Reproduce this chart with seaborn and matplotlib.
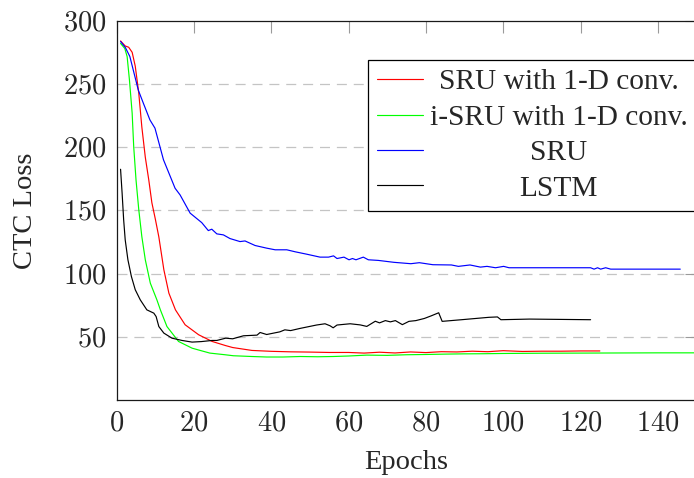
import matplotlib
matplotlib.use("Agg")
import matplotlib.pyplot as plt
import matplotlib.transforms as mtransforms
from matplotlib.ticker import FuncFormatter
import seaborn as sns

# ---------------- data ----------------
red_x = [1, 2.2, 3.1, 4, 4.8, 5.7, 6.5, 7.4, 8.3, 9.1, 10.0, 10.9, 12.2, 13.5, 15.2,
         17.7, 21.2, 24.7, 28.1, 30, 35, 40, 45, 50, 55, 60, 64, 68, 72, 76, 80, 84,
         88, 92, 96, 100, 105, 110, 115, 120, 125]
red_y = [284, 280, 279, 275, 264, 243, 216, 192, 174, 156, 143, 129, 103, 84.5, 71.3,
         59.5, 51.6, 46.3, 43.1, 41.5, 39.2, 38.5, 38.1, 37.9, 37.6, 37.6, 37.1, 37.8,
         37.2, 38.0, 37.5, 38.2, 38.0, 38.6, 38.2, 39.0, 38.4, 38.6, 38.6, 38.8, 38.8]

green_x = [1, 2.1, 2.7, 3.3, 4, 4.4, 5, 5.7, 6.5, 7.4, 8.7, 10.4, 11.3, 13, 16, 19.5,
           21.6, 24.1, 28, 30.2, 35, 38.8, 43, 47.5, 52, 56, 60, 64.7, 70, 75, 80, 85,
           90, 95, 100, 110, 120, 130, 140, 150]
green_y = [282, 278, 271.6, 253, 226.8, 200.4, 174, 150.8, 129.3, 110.9, 92.4, 79.2,
           71.3, 58.1, 46.3, 41, 39.2, 37.1, 35.8, 35, 34.4, 34, 34.0, 34.4, 34.2, 34.4,
           34.8, 35.5, 35.3, 35.8, 36.0, 36.3, 36.5, 36.6, 36.8, 37, 37.1, 37.2, 37.3, 37.3]

blue_x = [1, 2.2, 3.4, 5.6, 6.9, 8.6, 9.9, 12.1, 15.1, 16.4, 19, 22, 23.7, 24.6, 25.9,
          27.6, 29.3, 31.9, 33.2, 35.8, 38.8, 41, 44, 46.2, 49.2, 52.6, 54.8, 56.1, 57,
          58.8, 60.1, 61, 61.9, 63.8, 65.1, 67.7, 71.7, 76.1, 78.3, 81.8, 86.6, 88.4,
          91.4, 94.1, 95.8, 98, 100.1, 101.5, 122.6, 123.5, 124.4, 125.2, 126.5, 127.8,
          145.8]
blue_y = [283.5, 279, 271.7, 245, 234.7, 221.5, 215, 190, 167.5, 162.2, 147.8, 140.3,
          134, 135.1, 131.4, 130.6, 127.7, 125.3, 125.8, 122.2, 120.1, 118.8, 118.8,
          117.2, 115.3, 113, 113, 114, 111.9, 113, 110.9, 111.9, 110.9, 113, 110.9,
          110.4, 108.9, 107.8, 108.6, 107, 106.8, 105.7, 106.8, 105.1, 105.7, 104.6,
          105.7, 104.6, 104.6, 103.5, 104.6, 103.5, 104.6, 103.5, 103.5]

black_x = [1, 1.4, 1.8, 2.2, 2.9, 3.8, 4.8, 6.1, 7.8, 9.6, 10.2, 10.9, 12.2, 14.3, 16.9,
           19.5, 21.9, 24.7, 25.9, 28.2, 30, 32.8, 36.3, 37.1, 38.8, 42.2, 43.5, 45,
           47.4, 51.7, 53.9, 55.2, 56, 57, 60.4, 63, 64.7, 66.9, 68, 69.5, 70.8, 72.1,
           73.9, 75.6, 77.4, 79.6, 81.4, 83.3, 84.2, 89.2, 96.3, 98.5, 99.4, 106.8, 122.6]
black_y = [182.5, 163.6, 142.5, 126.7, 110.9, 97.7, 87.2, 79.2, 71.3, 68.7, 66, 58.1,
           52.9, 48.9, 47.1, 45.8, 46.2, 47.1, 47.1, 48.9, 48.4, 50.8, 51.3, 53.4, 51.8,
           53.9, 55.5, 54.9, 56.6, 59.3, 60.3, 58.7, 57.1, 59.3, 60.3, 59.4, 58.2, 62.3,
           61, 62.8, 61.8, 62.8, 59.6, 62.2, 62.8, 64.5, 66.6, 69, 62.2, 63.5, 65.4,
           65.7, 63.5, 64, 63.5]

series_labels = ["SRU with 1-D conv.", "i-SRU with 1-D conv.", "SRU", "LSTM"]
series_colors = ["#ff0000", "#00ff00", "#0000ff", "#000000"]
x_label = "Epochs"
y_label = "CTC Loss"
y_ticks = [50, 100, 150, 200, 250, 300]
x_ticks = [0, 20, 40, 60, 80, 100, 120, 140]

# ---------------- style ----------------
sns.set_style("white")
plt.rcParams["font.family"] = ["Liberation Serif", "DejaVu Serif"]
plt.rcParams["mathtext.fontset"] = "cm"
FS = 20.5
LFS = 21.2

fig = plt.figure(figsize=(6.94, 4.78), dpi=100)
ax = fig.add_axes([116.7 / 694, 1 - 400 / 478, (696.5 - 116.7) / 694, (400 - 20.7) / 478])

for xs, ys, lab, col in zip([red_x, green_x, blue_x, black_x],
                            [red_y, green_y, blue_y, black_y],
                            series_labels, series_colors):
    sns.lineplot(x=xs, y=ys, ax=ax, color=col, lw=0.85, label=lab,
                 sort=False, estimator=None)

ax.set_xlim(0, 150)
ax.set_ylim(0, 300)
ax.set_xticks(x_ticks)
ax.set_yticks(y_ticks)
fmt = FuncFormatter(lambda v, p: f"${v:g}$")
ax.xaxis.set_major_formatter(fmt)
ax.yaxis.set_major_formatter(fmt)

ax.grid(False)
for yv in y_ticks[:-1]:
    ax.axhline(yv, color="#c4c4c4", lw=0.9, ls=(0, (8, 5.5)), zorder=0.5)

ax.tick_params(axis="both", which="major", direction="in", length=8.8, width=0.8,
               color="#9a9a9a", top=True, right=True, labelsize=FS)
ax.tick_params(axis="x", pad=8.2)
ax.tick_params(axis="y", pad=7.2)
for sp in ax.spines.values():
    sp.set_color("#1a1a1a")
    sp.set_linewidth(0.9)

ax.set_xlabel(x_label, fontsize=FS, labelpad=10)
ax.set_ylabel(y_label, fontsize=FS, labelpad=18)

leg = ax.legend(loc="upper right", bbox_to_anchor=(1.0, (400 - 60) / (400 - 20.7)),
                borderaxespad=0, fontsize=LFS, frameon=True, fancybox=False,
                framealpha=1, edgecolor="black", handlelength=1.55,
                handletextpad=0.25, borderpad=0.3, labelspacing=0.3)
leg.get_frame().set_linewidth(0.9)
for h in leg.get_lines():
    h.set_linewidth(0.85)

# center the legend texts within their column
fig.canvas.draw()
renderer = fig.canvas.get_renderer()
texts = leg.get_texts()
widths = [t.get_window_extent(renderer).width for t in texts]
wmax = max(widths)
for t, w in zip(texts, widths):
    t.set_transform(t.get_transform() + mtransforms.Affine2D().translate((wmax - w) / 2, 0))

fig.savefig("out.png", dpi=100)
